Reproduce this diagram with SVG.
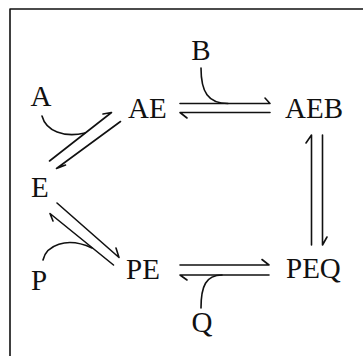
<svg xmlns="http://www.w3.org/2000/svg" width="363" height="356" viewBox="0 0 363 356">
<style>
.t{font-family:'Liberation Serif','DejaVu Serif','Times New Roman',serif;font-size:29px;fill:#111}
.ln{fill:none;stroke:#111;stroke-width:1.6;stroke-linecap:round;stroke-linejoin:round}
</style>
<rect width="363" height="356" fill="#fff"/>
<path class="ln" d="M10,356 V9 H363" stroke-width="2"/>
<g class="t">
<g id="node-A"><text x="41" y="106" text-anchor="middle">A</text></g>
<g id="node-B"><text x="201" y="60" text-anchor="middle">B</text></g>
<g id="node-AE"><text x="128" y="117.5">AE</text></g>
<g id="node-AEB"><text x="285" y="118">AEB</text></g>
<g id="node-E"><text x="31" y="197">E</text></g>
<g id="node-P"><text x="31" y="290">P</text></g>
<g id="node-PE"><text x="126" y="279">PE</text></g>
<g id="node-PEQ"><text x="286" y="278">PEQ</text></g>
<g id="node-Q"><text x="202" y="332" text-anchor="middle">Q</text></g>
</g>
<g id="connectors">
<path class="ln" d="M180,103.5 H270 L265,98"/>
<path class="ln" d="M270,112.5 H180 L187,118"/>
<path class="ln" d="M201,68 C201,92 208,103.5 228,103.5"/>
<path class="ln" d="M311.5,245 V135 L306,143"/>
<path class="ln" d="M322.5,135 V245 L327,237"/>
<path class="ln" d="M180,265 H269 L262,259.5"/>
<path class="ln" d="M269,275 H180 L187,280"/>
<path class="ln" d="M201,308 C201,286 206,275 222,275"/>
<path class="ln" d="M49.5,161 L111.5,112.5 L103,114"/>
<path class="ln" d="M120.5,121.5 L56.5,168.5 L65.5,165"/>
<path class="ln" d="M42,116 C46,131 64,138 85,133"/>
<path class="ln" d="M57,203 L119,257.5 L116,248"/>
<path class="ln" d="M113.5,265 L50,213.5 L53,221"/>
<path class="ln" d="M43,260 C46,246 66,236 92,248"/>
</g>
</svg>
